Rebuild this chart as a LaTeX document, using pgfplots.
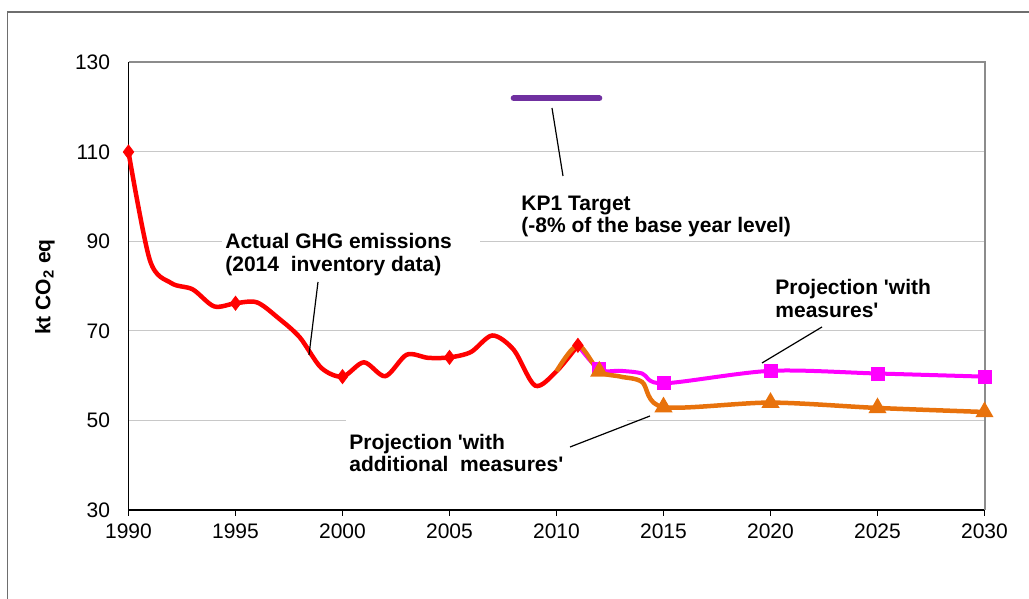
\documentclass[border=0pt]{standalone}
\usepackage{fontspec}
\setmainfont{Liberation Sans}
\usepackage{pgfplots}
\pgfplotsset{compat=1.18}
\definecolor{wamorange}{RGB}{232,114,12}
\definecolor{wmmagenta}{RGB}{255,0,255}
\definecolor{kppurple}{RGB}{112,48,160}
\definecolor{gridgray}{RGB}{200,200,200}
\definecolor{framegray}{RGB}{110,110,110}
\definecolor{boxgray}{RGB}{140,140,140}
\begin{document}
\fontsize{10.5}{12.6}\selectfont
\begin{tikzpicture}
\useasboundingbox (0,0) rectangle (514.5pt,299.5pt);
\draw[framegray, line width=0.6pt] (3.75pt,0) -- (3.75pt,293.5pt) -- (514.5pt,293.5pt);
\begin{axis}[
  at={(64.25pt,44.5pt)}, anchor=south west,
  scale only axis, width=428pt, height=223.75pt,
  xmin=1990, xmax=2030, ymin=30, ymax=130,
  xtick={1990,1995,...,2030}, ytick={30,50,...,130},
  axis x line*=bottom, axis y line*=left,
  axis line style={black, line width=0.75pt, -},
  ymajorgrids, grid style={gridgray, line width=0.5pt},
  tick align=outside, major tick length=3pt,
  xtick style={black, line width=0.5pt},
  ytick style={draw=none},
  yticklabel style={xshift=-2.5pt},
  /pgf/number format/assume math mode=true,
  /pgf/number format/1000 sep={},
  clip=false,
]
\draw[boxgray, line width=1pt] (rel axis cs:0,1) -- (rel axis cs:1,1) -- (rel axis cs:1,0);
\addplot[red, line width=2.25pt, smooth, mark=diamond*, mark size=3.5pt,
  mark options={solid, line width=0.4pt}, mark indices={1,6,11,16,22}] coordinates {
  (1990,110) (1991,85.8) (1992,80.7) (1993,79.3) (1994,75.5) (1995,76.2)
  (1996,76.4) (1997,72.9) (1998,68.6) (1999,61.8) (2000,59.8) (2001,63.0)
  (2002,59.9) (2003,64.7) (2004,64.0) (2005,64.1) (2006,65.3) (2007,69.0)
  (2008,65.8) (2009,57.8) (2010,61.0) (2011,66.8)
};
\addplot[wmmagenta, line width=2pt, smooth, mark=square*, mark size=2.5pt,
  mark options={solid}, mark indices={2,5,6,7,8}] coordinates {
  (2011,66.8) (2012,61.4) (2013,61.1) (2014,60.5) (2015,58.3) (2020,61.1) (2025,60.5) (2030,59.8)
};
\addplot[wamorange, line width=2.25pt, smooth, mark=triangle*, mark size=3pt,
  mark options={solid}, mark indices={3,6,7,8,9}] coordinates {
  (2010,61.0) (2011,66.8) (2012,61.0) (2013,59.8) (2014,58.6) (2015,53.0) (2020,54.0) (2025,52.8) (2030,51.9)
};
\addplot[kppurple, line width=3pt, line cap=round] coordinates {(2008,122) (2012,122)};
\end{axis}
\fill[white] (111pt,186.5pt) rectangle (240pt,160pt);
\fill[white] (173pt,91.5pt) rectangle (313.5pt,60.5pt);
\begin{scope}[every node/.style={anchor=base west, inner sep=0pt, font=\bfseries}]
\node at (112.5pt,175pt) {Actual GHG emissions};
\node at (112.5pt,163.75pt) {(2014\ \ inventory data)};
\node at (260.5pt,194pt) {KP1 Target};
\node at (260.5pt,183pt) {(-8\% of the base year level)};
\node at (387.5pt,152pt) {Projection \textquotesingle with};
\node at (387.5pt,140.75pt) {measures\textquotesingle};
\node at (174.5pt,74.5pt) {Projection \textquotesingle with};
\node at (174.5pt,63.5pt) {additional\ \ measures\textquotesingle};
\end{scope}
\draw[black, line width=0.6pt] (159pt,158.5pt) -- (154.5pt,122pt);
\draw[black, line width=0.6pt] (276pt,245.5pt) -- (281.5pt,211.5pt);
\draw[black, line width=0.6pt] (381pt,118pt) -- (411pt,136pt);
\draw[black, line width=0.6pt] (285pt,76pt) -- (325pt,91.5pt);
\node[rotate=90, font=\bfseries] at (22.5pt,156pt) {kt CO\textsubscript{2} eq};
\end{tikzpicture}
\end{document}
